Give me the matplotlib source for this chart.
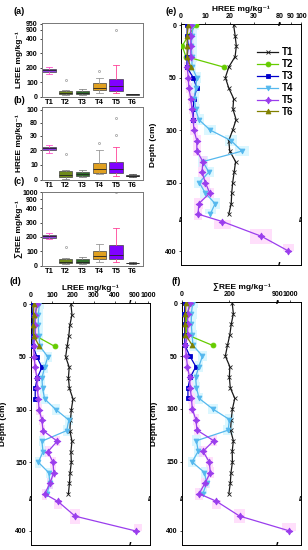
import numpy as np
import matplotlib
matplotlib.use("Agg")
import matplotlib.pyplot as plt
import matplotlib.transforms as mtransforms

plt.rcParams['font.family'] = ['Liberation Sans', 'DejaVu Sans']
plt.rcParams['font.weight'] = 'bold'
plt.rcParams['axes.labelweight'] = 'bold'
plt.rcParams['axes.linewidth'] = 0.7

# ---------------- data ----------------
series = ['T1', 'T2', 'T3', 'T4', 'T5', 'T6']

depth_T1 = [0, 10, 20, 30, 40, 50, 60, 70, 80, 90, 100, 110, 120, 130, 140, 150, 160, 170, 180]
depth_T2 = [0, 10, 20, 30, 40]
depth_T3 = [0, 10, 20, 30, 40, 50, 60, 70, 80, 90]
depth_T4 = [0, 10, 20, 30, 40, 50, 60, 70, 80, 90, 100, 110, 120, 130, 140, 150, 160, 170, 180]
depth_T5 = [0, 10, 20, 30, 40, 50, 60, 70, 80, 90, 100, 110, 120, 130, 140, 150, 160, 170, 180, 200, 300, 400]
depth_T6 = [0, 10, 20, 30, 40]

LREE_T1 = [190, 195, 185, 180, 172, 165, 182, 178, 183, 200, 192, 188, 185, 195, 190, 192, 186, 183, 178]
LREE_T2 = [30, 20, 15, 20, 112]
LREE_T3 = [10, 8, 8, 9, 10, 28, 52, 30, 20, 20]
LREE_T4 = [40, 35, 35, 38, 42, 80, 65, 52, 55, 65, 118, 180, 170, 52, 57, 35, 85, 90, 76]
LREE_T5 = [28, 20, 20, 20, 12, 15, 20, 28, 30, 35, 38, 52, 57, 125, 80, 105, 108, 90, 65, 128, 210, 905]
LREE_T6 = [14, 12, 11, 12, 40]

HREE_T1 = [21.6, 22.2, 22.7, 22.2, 19.6, 18.2, 19.6, 21.6, 21.3, 22.6, 21.2, 19.6, 20.0, 22.4, 21.8, 21.2, 20.8, 20.6, 19.6]
HREE_T2 = [6.0, 3.0, 0.5, 2.0, 17.5]
HREE_T3 = [2.5, 2.5, 3.0, 2.5, 2.4, 5.0, 6.5, 5.3, 5.0, 5.0]
HREE_T4 = [5.0, 4.5, 4.2, 4.5, 4.5, 6.5, 6.0, 5.5, 6.0, 7.3, 12.0, 20.5, 25.0, 9.0, 11.4, 7.5, 10.0, 14.0, 12.0]
HREE_T5 = [4.0, 4.0, 4.0, 4.0, 2.5, 3.0, 3.2, 4.0, 4.5, 5.0, 5.3, 6.5, 6.5, 9.0, 8.6, 10.0, 11.8, 7.3, 7.0, 17.0, 33.0, 88.0]
HREE_T6 = [3.0, 2.5, 2.5, 2.5, 4.0]

SREE_T1 = [212, 217, 208, 202, 192, 183, 202, 200, 204, 223, 213, 208, 205, 217, 212, 213, 207, 204, 198]
SREE_T2 = [36, 23, 15.5, 22, 129.5]
SREE_T3 = [12.5, 10.5, 11, 11.5, 12.4, 33, 58.5, 35.3, 25, 25]
SREE_T4 = [45, 39.5, 39.2, 42.5, 46.5, 86.5, 71, 57.5, 61, 72.3, 130, 200.5, 195, 61, 68.4, 42.5, 95, 104, 88]
SREE_T5 = [32, 24, 24, 24, 14.5, 18, 23.2, 32, 34.5, 40, 43.3, 58.5, 63.5, 134, 88.6, 115, 119.8, 97.3, 72, 145, 243, 993]
SREE_T6 = [17, 14.5, 13.5, 14.5, 44]

# shaded uncertainty bands (half widths)
LREE_err_T4 = [20, 20, 20, 18, 16, 18, 16, 14, 14, 16, 18, 18, 18, 16, 16, 14, 14, 14, 14]
LREE_err_T5 = [12, 12, 12, 12, 10, 10, 10, 10, 10, 12, 12, 12, 12, 13, 13, 13, 13, 13, 13, 18, 22, 50]
HREE_err_T4 = [2.2, 2.2, 2.2, 2.2, 1.8, 1.8, 1.8, 1.8, 1.8, 2.2, 2.5, 2.5, 3.0, 2.2, 2.2, 2.2, 2.2, 2.2, 2.2]
HREE_err_T5 = [1.5, 1.5, 1.5, 1.5, 1.3, 1.3, 1.3, 1.3, 1.3, 1.5, 1.5, 1.5, 1.5, 1.8, 1.8, 1.8, 1.8, 1.8, 1.8, 3.5, 4.5, 5.0]
SREE_err_T4 = [22, 22, 22, 20, 18, 20, 18, 16, 16, 18, 20, 20, 20, 18, 18, 16, 16, 16, 16]
SREE_err_T5 = [14, 14, 14, 14, 11, 11, 11, 11, 11, 13, 13, 13, 13, 15, 15, 15, 15, 15, 15, 20, 25, 55]

# box-plot statistics (T1..T6)
LREE_q1 = [172, 15, 15, 45, 40, 13]
LREE_med = [185, 25, 25, 60, 70, 15]
LREE_q3 = [193, 40, 40, 95, 125, 17]
LREE_lo = [155, 8, 8, 25, 25, 12]
LREE_hi = [205, 45, 50, 130, 220, 20]
LREE_fliers = [[], [115], [], [180], [900], []]

HREE_q1 = [20.5, 2.0, 2.5, 4.5, 4.5, 2.3]
HREE_med = [21.5, 3.0, 4.0, 7.0, 7.0, 2.5]
HREE_q3 = [22.5, 6.0, 5.5, 11.5, 12.0, 2.8]
HREE_lo = [18.5, 0.5, 2.0, 3.5, 2.5, 2.0]
HREE_hi = [24.0, 6.5, 6.5, 20.0, 22.0, 4.0]
HREE_fliers = [[], [17.5], [], [25], [33, 88], []]

SREE_q1 = [195, 17, 17, 45, 45, 16]
SREE_med = [205, 28, 28, 70, 75, 18]
SREE_q3 = [215, 45, 45, 100, 140, 20]
SREE_lo = [185, 10, 10, 25, 25, 14]
SREE_hi = [230, 50, 60, 150, 260, 24]
SREE_fliers = [[], [130], [], [], [1000], []]

# ---------------- styles ----------------
line_colors = ['#1a1a1a', '#66cc00', '#0000cc', '#55b8ee', '#9a3ded', '#808000']
markers = ['x', 'o', 's', 'v', (4, 1, 0), '^']
msizes = [2.5, 3.5, 3.0, 3.5, 5.0, 3.5]
box_fc = ['#8e3fe0', '#6e8a1a', '#2f6e2a', '#e0a020', '#8000ff', '#000000']
box_wc = ['#ff55cc', '#888888', '#888888', '#999999', '#ff4499', '#555555']

depths = [depth_T1, depth_T2, depth_T3, depth_T4, depth_T5, depth_T6]


def broken(xp, fp):
    xp = np.asarray(xp, float)
    fp = np.asarray(fp, float)
    s0 = (fp[1] - fp[0]) / (xp[1] - xp[0])
    s1 = (fp[-1] - fp[-2]) / (xp[-1] - xp[-2])

    def f(x):
        x = np.asarray(x, float)
        y = np.interp(x, xp, fp)
        y = np.where(x < xp[0], fp[0] + (x - xp[0]) * s0, y)
        y = np.where(x > xp[-1], fp[-1] + (x - xp[-1]) * s1, y)
        return y

    def g(y):
        y = np.asarray(y, float)
        x = np.interp(y, fp, xp)
        x = np.where(y < fp[0], xp[0] + (y - fp[0]) / s0, x)
        x = np.where(y > fp[-1], xp[-1] + (y - fp[-1]) / s1, x)
        return x
    return (f, g)


W, H = 308, 550
fig = plt.figure(figsize=(W / 100, H / 100), dpi=100)


def pos(l, r, t, b):
    return [l / W, 1 - b / H, (r - l) / W, (b - t) / H]


def draw_box(ax, q1, med, q3, lo, hi, fl, xp, fp, ylim, yticks, ylabel):
    ax.set_yscale('function', functions=broken(xp, fp))
    stats = []
    for i, s in enumerate(series):
        stats.append(dict(label=s, q1=q1[i], med=med[i], q3=q3[i],
                          whislo=lo[i], whishi=hi[i], fliers=fl[i]))
    art = ax.bxp(stats, positions=range(1, 7), widths=0.8, patch_artist=True,
                 showfliers=True,
                 flierprops=dict(marker='o', ms=1.5, mfc='none', mec='#999999', mew=0.5))
    for i, b in enumerate(art['boxes']):
        b.set_facecolor(box_fc[i])
        b.set_edgecolor('#444444')
        b.set_linewidth(0.5)
    for i, m in enumerate(art['medians']):
        m.set_color('#222222')
        m.set_linewidth(0.6)
    for i in range(6):
        for w in art['whiskers'][2 * i:2 * i + 2]:
            w.set_color(box_wc[i]); w.set_linewidth(0.6)
        for c in art['caps'][2 * i:2 * i + 2]:
            c.set_color(box_wc[i]); c.set_linewidth(0.6)
    ax.set_xlim(0.58, 6.62)
    ax.set_ylim(*ylim)
    ax.set_yticks(yticks)
    ax.set_yticklabels([str(t) for t in yticks])
    ax.tick_params(axis='both', labelsize=5, length=1.5, width=0.5, pad=1.5)
    ax.tick_params(axis='x', labelsize=5.5, length=0)
    for sp in ax.spines.values():
        sp.set_color('#777777')
    ax.set_ylabel(ylabel, fontsize=6, labelpad=1)
    ax.yaxis.set_label_coords(-0.19, 0.5)


ax_a = fig.add_axes(pos(42, 143, 23, 97))
draw_box(ax_a, LREE_q1, LREE_med, LREE_q3, LREE_lo, LREE_hi, LREE_fliers,
         [0, 400, 900, 1000], [0, 58, 67, 79], (-3, 958),
         [0, 100, 200, 300, 400, 900, 950], 'LREE mg/kg⁻¹')
ax_b = fig.add_axes(pos(42, 143, 107, 180))
draw_box(ax_b, HREE_q1, HREE_med, HREE_q3, HREE_lo, HREE_hi, HREE_fliers,
         [0, 30, 80, 100], [0, 44, 57, 70], (-0.3, 104.5),
         [0, 10, 20, 30, 80, 100], 'HREE mg/kg⁻¹')
ax_c = fig.add_axes(pos(42, 143, 192, 266))
draw_box(ax_c, SREE_q1, SREE_med, SREE_q3, SREE_lo, SREE_hi, SREE_fliers,
         [0, 400, 900, 1000], [0, 58, 67, 74], (-3, 1005),
         [0, 100, 200, 300, 400, 900, 1000], '∑REE mg/kg⁻¹')

depth_xp = [0, 185, 400]
depth_fp = [0, 196.5, 228.5]


def draw_profile(ax, vals, errs, xp, fp, xlim, xticks, xlabel, xbreak, label_y):
    ax.set_xscale('function', functions=broken(xp, fp))
    ax.set_yscale('function', functions=broken(depth_xp, depth_fp))
    band_cols = {3: '#b8f0ff', 4: '#ffc0f8'}
    for k, e in errs.items():
        v = np.asarray(vals[k], float)
        e = np.asarray(e, float)
        ax.fill_betweenx(depths[k], v - e, v + e, step='mid',
                         color=band_cols[k], alpha=0.5, lw=0, zorder=1)
    handles = []
    for i, s in enumerate(series):
        h, = ax.plot(vals[i], depths[i], color=line_colors[i], marker=markers[i],
                     ms=msizes[i], lw=0.9, mew=0.6, label=s, zorder=3)
        handles.append(h)
    ax.set_xlim(*xlim)
    ax.set_ylim(495, -1)
    ax.set_xticks(xticks)
    ax.set_xticklabels([str(t) for t in xticks])
    ax.set_yticks([0, 50, 100, 150, 400])
    ax.set_yticklabels(['0', '50', '100', '150', '400'])
    ax.xaxis.tick_top()
    ax.xaxis.set_label_position('top')
    ax.tick_params(axis='both', labelsize=5, length=1.8, width=0.5, pad=1.2)
    ax.set_xlabel(xlabel, fontsize=6)
    ax.xaxis.set_label_coords(0.5, label_y)
    ax.set_ylabel('Depth (cm)', fontsize=6)
    ax.yaxis.set_label_coords(-0.2, 0.5)
    tx = mtransforms.blended_transform_factory(ax.transData, ax.transAxes)
    ty = mtransforms.blended_transform_factory(ax.transAxes, ax.transData)
    for yy in (0, 1):
        ax.text(xbreak, yy, '//', transform=tx, ha='center', va='center',
                fontsize=4.5, clip_on=False, zorder=5)
    for xx in (0, 1):
        ax.text(xx, 190, '//', transform=ty, ha='center', va='center',
                fontsize=5, clip_on=False, zorder=5)
    return handles


LREE = [LREE_T1, LREE_T2, LREE_T3, LREE_T4, LREE_T5, LREE_T6]
HREE = [HREE_T1, HREE_T2, HREE_T3, HREE_T4, HREE_T5, HREE_T6]
SREE = [SREE_T1, SREE_T2, SREE_T3, SREE_T4, SREE_T5, SREE_T6]

ax_d = fig.add_axes(pos(31, 150, 303, 545))
draw_profile(ax_d, LREE, {3: LREE_err_T4, 4: LREE_err_T5},
             [0, 450, 900, 1000], [0, 94.5, 104, 117], (0, 1015),
             [0, 100, 200, 300, 400, 900, 1000], 'LREE mg/kg⁻¹', 675, 1.052)
ax_e = fig.add_axes(pos(181, 301, 24, 265))
hs = draw_profile(ax_e, HREE, {3: HREE_err_T4, 4: HREE_err_T5},
                  [0, 40, 80, 100], [0, 97.5, 99, 120], (0, 100),
                  [0, 10, 20, 30, 80, 90, 100], 'HREE mg/kg⁻¹', 60, 1.052)
ax_f = fig.add_axes(pos(182, 301, 302, 545))
draw_profile(ax_f, SREE, {3: SREE_err_T4, 4: SREE_err_T5},
             [0, 400, 900, 1000], [0, 94, 95, 107.5], (0, 1085),
             [0, 200, 900, 1000], '∑REE mg/kg⁻¹', 650, 1.052)

ax_e.legend(handles=hs, loc='upper left', bbox_to_anchor=(0.6, 0.92), frameon=False,
            prop=dict(size=7, weight='bold'), handlelength=2.2, labelspacing=0.2,
            handletextpad=0.4, borderaxespad=0)

for txt, x, y in [('(a)', 13, 12), ('(b)', 13, 100), ('(c)', 13, 182),
                  ('(d)', 10, 282), ('(e)', 166, 11), ('(f)', 172, 282)]:
    fig.text(x / W, 1 - y / H, txt, fontsize=6.5, fontweight='bold', va='center')

fig.savefig('out.png', dpi=100)
